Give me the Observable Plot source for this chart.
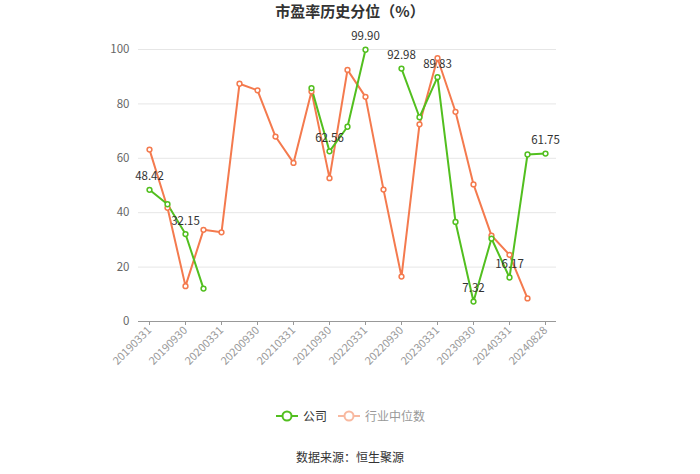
<!DOCTYPE html>
<html>
<head>
<meta charset="utf-8">
<script src="https://cdn.jsdelivr.net/npm/d3@7"></script>
<script src="https://cdn.jsdelivr.net/npm/@observablehq/plot@0.6"></script>
<style>
  body { margin: 0; background: #fff; font-family: "Noto Sans CJK SC", "Noto Sans", sans-serif; }
  #wrap { position: relative; width: 700px; height: 474px; overflow: hidden; }
  #title { position: absolute; top: 0px; left: 0; width: 700px; text-align: center; font-size: 15px; font-weight: bold; color: #333; }
  #chart { position: absolute; top: 0; left: 0; }
  #legend { position: absolute; top: 407px; left: 0; width: 700px; display: flex; justify-content: center; align-items: center; font-size: 12px; }
  #legend .item { display: flex; align-items: center; margin: 0 5px; }
  #legend svg { margin-right: 4px; }
  #caption { position: absolute; top: 448px; left: 0; width: 700px; text-align: center; font-size: 12px; color: #333; }
</style>
</head>
<body>
<div id="wrap">
  <div id="title">市盈率历史分位（%）</div>
  <div id="chart"></div>
  <div id="legend">
    <div class="item"><svg width="24" height="12"><line x1="1" y1="6" x2="23" y2="6" stroke="#52bf1f" stroke-width="2"/><circle cx="12" cy="6" r="4.5" fill="#fff" stroke="#52bf1f" stroke-width="2"/></svg><span style="color:#333">公司</span></div>
    <div class="item"><svg width="24" height="12"><line x1="1" y1="6" x2="23" y2="6" stroke="#f8b9a0" stroke-width="2"/><circle cx="12" cy="6" r="4.5" fill="#fff" stroke="#f8b9a0" stroke-width="2"/></svg><span style="color:#999">行业中位数</span></div>
  </div>
  <div id="caption">数据来源：恒生聚源</div>
</div>
<script>
const dates = ["20190331","20190630","20190930","20191231","20200331","20200630","20200930","20201231","20210331","20210630","20210930","20211231","20220331","20220630","20220930","20221231","20230331","20230630","20230930","20231231","20240331","20240630","20240828"];
const company = [48.42, 43.1, 32.15, 12.1, null, null, null, null, null, 85.8, 62.56, 71.6, 99.90, null, 92.98, 75.1, 89.83, 36.6, 7.32, 30.5, 16.17, 61.4, 61.75];
const industry = [63.2, 41.8, 13.0, 33.7, 32.8, 87.4, 85.0, 68.0, 58.3, 84.6, 52.7, 92.5, 82.6, 48.5, 16.5, 72.5, 96.8, 77.1, 50.4, 31.6, 24.5, 8.5, null];
const labeled = ["20190331","20190930","20210930","20220331","20220930","20230331","20230930","20240331","20240828"];
const yTicks = [0, 20, 40, 60, 80, 100];
const xTicks = dates.filter((d, i) => i % 2 === 0);

const green = "#52bf1f";
const orange = "#f47a4e";

const comp = dates.map((d, i) => ({date: d, v: company[i]}));
const ind = dates.map((d, i) => ({date: d, v: industry[i]}));

const chart = Plot.plot({
  width: 700,
  height: 400,
  marginLeft: 138,
  marginRight: 144,
  marginTop: 49,
  marginBottom: 79,
  style: {fontFamily: "'Noto Sans CJK SC', 'Noto Sans', sans-serif", fontSize: "11px", background: "transparent"},
  x: {type: "point", domain: dates, padding: 0.55},
  y: {domain: [0, 100]},
  marks: [
    Plot.gridY(yTicks, {stroke: "#e6e6e6", strokeOpacity: 1}),
    Plot.axisY({ticks: yTicks, tickSize: 0, tickPadding: 9, fill: "#666", fontSize: 11.5, label: null}),
    Plot.ruleY([0], {stroke: "#999", strokeWidth: 1}),
    Plot.axisX({ticks: xTicks, tickSize: 4, tickRotate: -45, stroke: "#999", fill: "#999", fontSize: 11, tickPadding: 3, label: null}),
    Plot.lineY(ind, {x: "date", y: "v", stroke: orange, strokeWidth: 2, curve: "linear"}),
    Plot.lineY(comp, {x: "date", y: "v", stroke: green, strokeWidth: 2, curve: "linear"}),
    Plot.dot(ind.filter(d => d.v != null), {x: "date", y: "v", r: 2.4, fill: "#fff", stroke: orange, strokeWidth: 1.5}),
    Plot.dot(comp.filter(d => d.v != null), {x: "date", y: "v", r: 2.4, fill: "#fff", stroke: green, strokeWidth: 1.5}),
    Plot.text(comp.filter(d => labeled.includes(d.date)), {x: "date", y: "v", text: d => d.v.toFixed(2), dy: -13, fill: "#333", fontSize: 11.5})
  ]
});
document.getElementById("chart").appendChild(chart);
</script>
</body>
</html>
